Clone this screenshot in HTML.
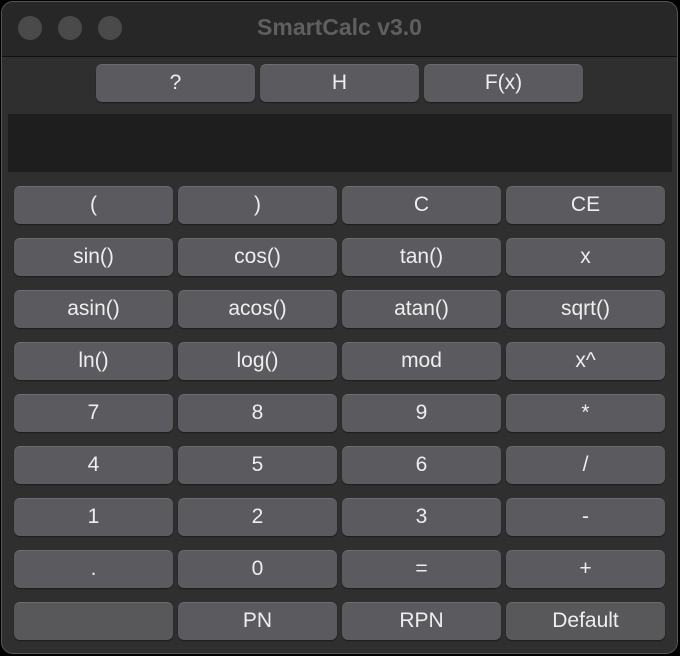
<!DOCTYPE html>
<html><head><style>
body{margin:0;width:680px;height:656px;background:#000;overflow:hidden;font-family:"Liberation Sans",sans-serif}
.win{position:absolute;left:1px;top:1px;width:677px;height:653px;border-radius:12px;background:#2f2f2f;border:1px solid #555;box-sizing:border-box;overflow:hidden}
.tb{position:absolute;left:0;top:0;right:0;height:54px;background:#272727;border-bottom:1px solid #111}
.dot{position:absolute;top:14px;width:24px;height:24px;border-radius:50%;background:#4a4a4a}
.title{position:absolute;left:0;right:0;top:12px;text-align:center;color:#5f5f5f;font-weight:bold;font-size:23px}
.b{position:absolute;width:159px;height:38px;border-radius:6px;background:#5b5a5f;border-top:1px solid #6d6c71;box-sizing:border-box;box-shadow:0 1px 1px #1c1c1c;color:#eee;font-size:21px;text-align:center;line-height:35px}
.disp{position:absolute;left:6px;top:112px;width:664px;height:58px;background:#1e1e1e}
</style></head><body><div class="win">
<div class="tb"><div class="dot" style="left:16px"></div><div class="dot" style="left:56px"></div><div class="dot" style="left:96px"></div><div class="title">SmartCalc v3.0</div></div>
<div class="b" style="left:94px;top:62px">?</div>
<div class="b" style="left:258px;top:62px">H</div>
<div class="b" style="left:422px;top:62px">F(x)</div>
<div class="disp"></div>
<div id="g"></div>
</div>
<script>
var L=[["(",")","C","CE"],["sin()","cos()","tan()","x"],["asin()","acos()","atan()","sqrt()"],["ln()","log()","mod","x^"],["7","8","9","*"],["4","5","6","/"],["1","2","3","-"],[".","0","=","+"],["","PN","RPN","Default"]];
var h="";L.forEach(function(r,i){r.forEach(function(t,j){var s=(i==8&&(j==0||j==3))?"background:#58585a;":"";h+='<div class="b" style="'+s+'left:'+(12+164*j)+'px;top:'+(184+52*i)+'px">'+t+'</div>'})});
document.getElementById("g").innerHTML=h;
</script></body></html>
